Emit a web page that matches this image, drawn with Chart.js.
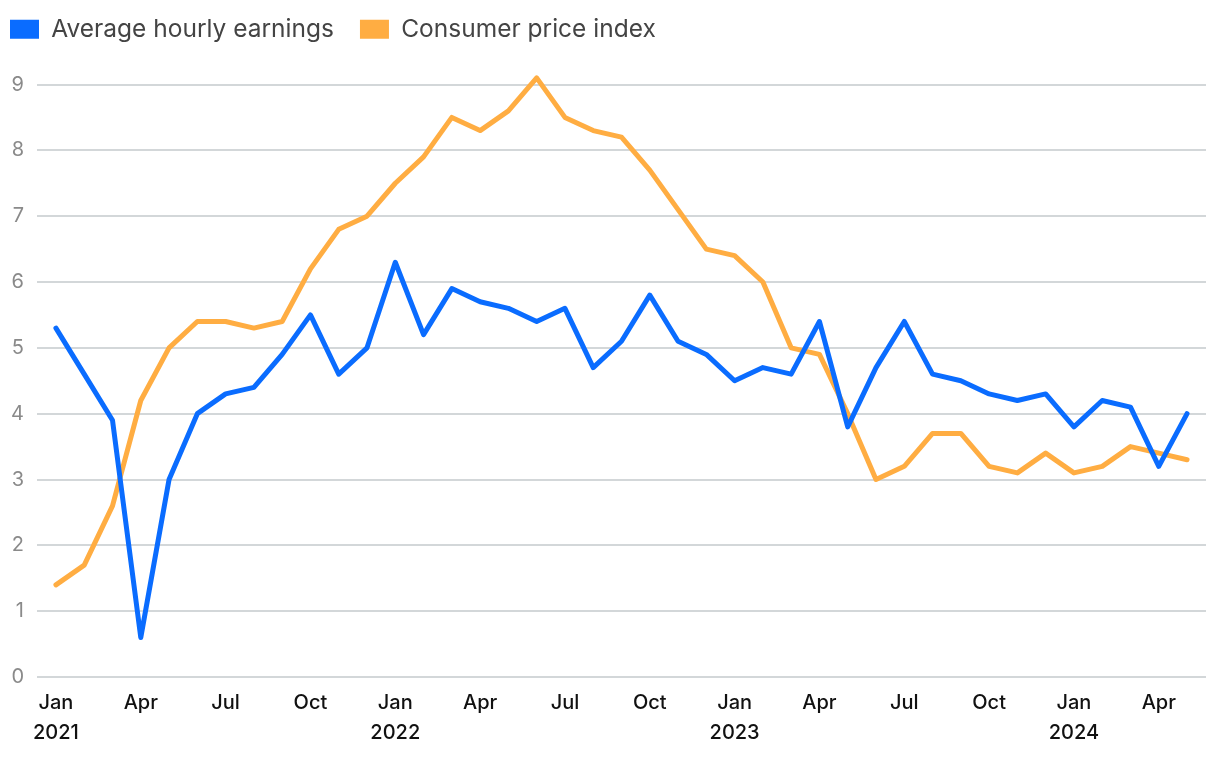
<!DOCTYPE html>
<html>
<head>
<meta charset="utf-8">
<script src="https://cdn.jsdelivr.net/npm/chart.js@4"></script>
<style>
html,body{margin:0;padding:0;background:#fff;}
#wrap{width:1220px;height:758px;position:relative;}
</style>
</head>
<body>
<div id="wrap"><canvas id="c"></canvas></div>
<script>
const months = ['Jan','Feb','Mar','Apr','May','Jun','Jul','Aug','Sep','Oct','Nov','Dec'];
const years = ['2021','2022','2023','2024'];
const categories = [];
years.forEach(y => months.forEach(m => categories.push(m + ' ' + y)));
categories.length = 41; // Jan 2021 .. May 2024

const earnings = [5.3,4.6,3.9,0.6,3.0,4.0,4.3,4.4,4.9,5.5,4.6,5.0,
                  6.3,5.2,5.9,5.7,5.6,5.4,5.6,4.7,5.1,5.8,5.1,4.9,
                  4.5,4.7,4.6,5.4,3.8,4.7,5.4,4.6,4.5,4.3,4.2,4.3,
                  3.8,4.2,4.1,3.2,4.0];
const cpi = [1.4,1.7,2.6,4.2,5.0,5.4,5.4,5.3,5.4,6.2,6.8,7.0,
             7.5,7.9,8.5,8.3,8.6,9.1,8.5,8.3,8.2,7.7,7.1,6.5,
             6.4,6.0,5.0,4.9,4.0,3.0,3.2,3.7,3.7,3.2,3.1,3.4,
             3.1,3.2,3.5,3.4,3.3];
const yTicks = [0,1,2,3,4,5,6,7,8,9];
const xTickIdx = [0,3,6,9,12,15,18,21,24,27,30,33,36,39];

const toPts = arr => arr.map((v,i) => ({x:i, y:v}));

const legendGap = {
  id:'legendGap',
  beforeInit(chart){
    const lg = chart.legend;
    const fit = lg.fit;
    lg.fit = function(){ fit.call(lg); lg.height += 33; };
  }
};

new Chart(document.getElementById('c'), {
  type: 'line',
  data: {
    datasets: [
      {label:'Average hourly earnings', data: toPts(earnings), borderColor:'#0a6cff', backgroundColor:'#0a6cff',
       borderWidth:5, pointRadius:0, tension:0, clip:false, borderCapStyle:'round', borderJoinStyle:'round'},
      {label:'Consumer price index', data: toPts(cpi), borderColor:'#ffad42', backgroundColor:'#ffad42',
       borderWidth:5, pointRadius:0, tension:0, clip:false, borderCapStyle:'round', borderJoinStyle:'round'}
    ]
  },
  plugins:[legendGap],
  options: {
    responsive:true, maintainAspectRatio:false, animation:false,
    layout:{padding:{left:-16,right:14,top:-9,bottom:7}},
    plugins:{
      tooltip:{enabled:false},
      legend:{
        position:'top', align:'start',
        labels:{boxWidth:29, boxHeight:19, padding:26, color:'#444',
          font:{family:'Inter', size:24.5},
          generateLabels: ch => Chart.defaults.plugins.legend.labels.generateLabels(ch)
            .map(l => Object.assign(l, {lineWidth:0, strokeStyle:'rgba(0,0,0,0)'}))
        }
      }
    },
    scales:{
      x:{
        type:'linear', min:-0.67, max:40.67,
        afterBuildTicks: s => { s.ticks = xTickIdx.map(v => ({value:v})); },
        ticks:{
          autoSkip:false, maxRotation:0, color:'#111', padding:3,
          font:{family:'Inter', size:20, weight:'500', lineHeight:1.5},
          callback: v => {
            const [m,y] = categories[v].split(' ');
            return m === 'Jan' ? [m,y] : m;
          }
        },
        grid:{display:false}, border:{display:false}
      },
      y:{
        min:0, max:9,
        afterBuildTicks: s => { s.ticks = yTicks.map(v => ({value:v})); },
        afterFit: s => { s.width = 53; },
        ticks:{color:'#8a8a8a', padding:13, font:{family:'Inter', size:20}},
        grid:{color:'#d3d7d9', lineWidth:2, drawTicks:false},
        border:{display:false}
      }
    }
  }
});
</script>
</body>
</html>
